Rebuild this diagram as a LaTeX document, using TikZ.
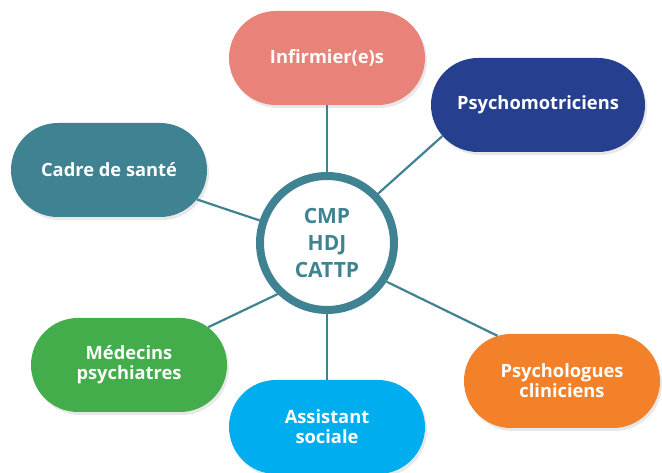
\documentclass[tikz,border=0pt]{standalone}
\usepackage{fontspec}
\setmainfont{Open Sans}
\usepackage{tikz}
\usetikzlibrary{shapes.misc, shadows}
\definecolor{teal}{HTML}{3F8291}
\definecolor{salmon}{HTML}{E9837A}
\definecolor{navy}{HTML}{263F8E}
\definecolor{leaf}{HTML}{43AC4B}
\definecolor{sky}{HTML}{00AEEF}
\definecolor{tangerine}{HTML}{F28129}
\tikzset{x=1pt, y=1pt,
  job/.style={rounded rectangle, minimum width=200pt, minimum height=94pt,
    text=white, align=center, inner sep=2pt,
    font=\fontsize{18.3}{20}\selectfont\bfseries,
    drop shadow={opacity=0.18, shadow xshift=2pt, shadow yshift=-3pt}},
  hubnode/.style={circle, draw=teal, line width=8pt, fill=white,
    minimum size=134pt, text=teal, align=center,
    font=\fontsize{21}{26.7}\selectfont\bfseries},
  link/.style={draw=teal, line width=2.2pt}}

\begin{document}
\begin{tikzpicture}
    \useasboundingbox (-327,-230) rectangle (335,243);
    \node[hubnode] (hub) at (0,0) {CMP\\HDJ\\CATTP};
    \node[job, fill=salmon] (inf) at (0,185) {Infirmier(e)s};
    \node[job, fill=navy, minimum width=218pt] (psm) at (211,138) {Psychomotriciens};
    \node[job, fill=teal] (cad) at (-218,73) {Cadre de sant\'e};
    \node[job, fill=leaf] (med) at (-198,-122) {M\'edecins\\psychiatres};
    \node[job, fill=sky] (ass) at (0,-184) {Assistant\\sociale};
    \node[job, fill=tangerine] (psy) at (235,-138) {Psychologues\\cliniciens};
    \draw[link] (hub) edge (inf)
          (hub.44) edge (psm.198)
          (hub) edge (cad)
          (hub.226) edge (med)
          (hub) edge (ass)
          (hub.-33) edge (psy.145);
\end{tikzpicture}
\end{document}
